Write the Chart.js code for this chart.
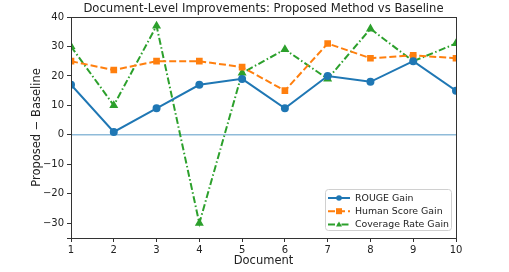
<!DOCTYPE html>
<html>
<head>
<meta charset="utf-8">
<script src="https://cdn.jsdelivr.net/npm/chart.js@4/dist/chart.umd.min.js"></script>
<style>
  html, body { margin: 0; padding: 0; background: #fff; }
  #wrap { width: 509px; height: 272px; }
</style>
</head>
<body>
<div id="wrap"><canvas id="c"></canvas></div>
<script>
// data
const documents = [1, 2, 3, 4, 5, 6, 7, 8, 9, 10];
const rougeGain = [17, 1, 9, 17, 19, 9, 20, 18, 25, 15];
const humanGain = [25, 22, 25, 25, 23, 15, 31, 26, 27, 26];
const coverageGain = [30, 10, 37, -30, 21, 29, 19, 36, 25, 31];
const baselineY = [0, 0];

const titleText = 'Document-Level Improvements: Proposed Method vs Baseline';
const FONT = 'DejaVu Sans';

function pts(ys) {
    return documents.map((d, i) => ({ x: d, y: ys[i] }));
}

// title, box frame and an inside legend (lower right) like matplotlib
const framePlugin = {
    id: 'frame',
    afterDatasetsDraw(chart) {
        const { ctx, chartArea: a } = chart;
        ctx.save();
        ctx.strokeStyle = '#333';
        ctx.lineWidth = 1;
        ctx.strokeRect(a.left + 0.5, a.top + 0.5, a.right - a.left, a.bottom - a.top);

        ctx.fillStyle = '#222';
        ctx.font = '11.6px "' + FONT + '"';
        ctx.textAlign = 'center';
        ctx.textBaseline = 'middle';
        ctx.fillText(titleText, (a.left + a.right) / 2, 9);

        // legend
        const bx = 325, by = 189, bw = 126, bh = 41;
        ctx.fillStyle = 'rgba(255,255,255,0.85)';
        ctx.strokeStyle = '#d0d0d0';
        ctx.beginPath();
        ctx.roundRect(bx + 0.5, by + 0.5, bw, bh, 3);
        ctx.fill();
        ctx.stroke();
        ctx.font = '9.4px "' + FONT + '"';
        ctx.textAlign = 'left';
        const rows = chart.data.datasets.filter(ds => ds.label);
        rows.forEach((ds, i) => {
            const y = 198 + i * 13.2;
            ctx.strokeStyle = ds.borderColor;
            ctx.lineWidth = 2;
            ctx.setLineDash(ds.borderDash || []);
            ctx.beginPath();
            ctx.moveTo(328, y);
            ctx.lineTo(350, y);
            ctx.stroke();
            ctx.setLineDash([]);
            ctx.fillStyle = ds.borderColor;
            ctx.beginPath();
            if (ds.pointStyle === 'rect') {
                ctx.rect(339 - 3, y - 3, 6, 6);
            } else if (ds.pointStyle === 'triangle') {
                ctx.moveTo(339, y - 3);
                ctx.lineTo(342, y + 2.2);
                ctx.lineTo(336, y + 2.2);
                ctx.closePath();
            } else {
                ctx.arc(339, y, 2.8, 0, Math.PI * 2);
            }
            ctx.fill();
            ctx.fillStyle = '#222';
            ctx.fillText(ds.label, 355, y + 0.5);
        });
        ctx.restore();
    }
};

const ctx = document.getElementById('c').getContext('2d');
new Chart(ctx, {
    type: 'line',
    data: {
        datasets: [
            {
                data: [{ x: 1, y: baselineY[0] }, { x: 10, y: baselineY[1] }],
                borderColor: 'rgba(31,119,180,0.5)',
                borderWidth: 1.5,
                pointRadius: 0,
                order: 5
            },
            {
                label: 'ROUGE Gain',
                data: pts(rougeGain),
                borderColor: '#1f77b4',
                backgroundColor: '#1f77b4',
                borderWidth: 2,
                pointStyle: 'circle',
                pointRadius: 3,
                tension: 0
            },
            {
                label: 'Human Score Gain',
                data: pts(humanGain),
                borderColor: '#ff7f0e',
                backgroundColor: '#ff7f0e',
                borderWidth: 2,
                borderDash: [7, 3],
                pointStyle: 'rect',
                pointRadius: 3.3,
                tension: 0
            },
            {
                label: 'Coverage Rate Gain',
                data: pts(coverageGain),
                borderColor: '#2ca02c',
                backgroundColor: '#2ca02c',
                borderWidth: 2,
                borderDash: [7, 2.5, 1.5, 2.5],
                pointStyle: 'triangle',
                pointRadius: 3.2,
                tension: 0
            }
        ]
    },
    options: {
        responsive: true,
        maintainAspectRatio: false,
        animation: false,
        layout: { padding: { top: 17, right: 53, left: 0, bottom: 0 } },
        plugins: {
            legend: { display: false },
            title: { display: false },
            tooltip: { enabled: false }
        },
        scales: {
            x: {
                type: 'linear',
                min: 1,
                max: 10,
                grid: { display: true, drawOnChartArea: false, drawTicks: true, tickLength: 4, color: '#333' },
                border: { display: true, color: '#333' },
                ticks: { stepSize: 1, color: '#222', font: { family: FONT, size: 10 }, padding: 2, maxRotation: 0 },
                title: { display: true, text: 'Document', color: '#222', font: { family: FONT, size: 11.5 }, padding: { top: 0, bottom: 4 } },
                afterFit(scale) { scale.height = 34; }
            },
            y: {
                min: -35,
                max: 40,
                grid: { display: true, drawOnChartArea: false, drawTicks: true, tickLength: 4, color: '#333' },
                border: { display: true, color: '#333' },
                ticks: {
                    stepSize: 10,
                    color: '#222',
                    font: { family: FONT, size: 10 },
                    padding: 3,
                    callback: v => (v === -35 ? '' : String(v).replace('-', '\u2212'))
                },
                title: { display: true, text: 'Proposed \u2212 Baseline', color: '#222', font: { family: FONT, size: 11.5 }, padding: { top: 30, bottom: 0 } },
                afterFit(scale) { scale.width = 71; }
            }
        }
    },
    plugins: [framePlugin]
});
</script>
</body>
</html>
